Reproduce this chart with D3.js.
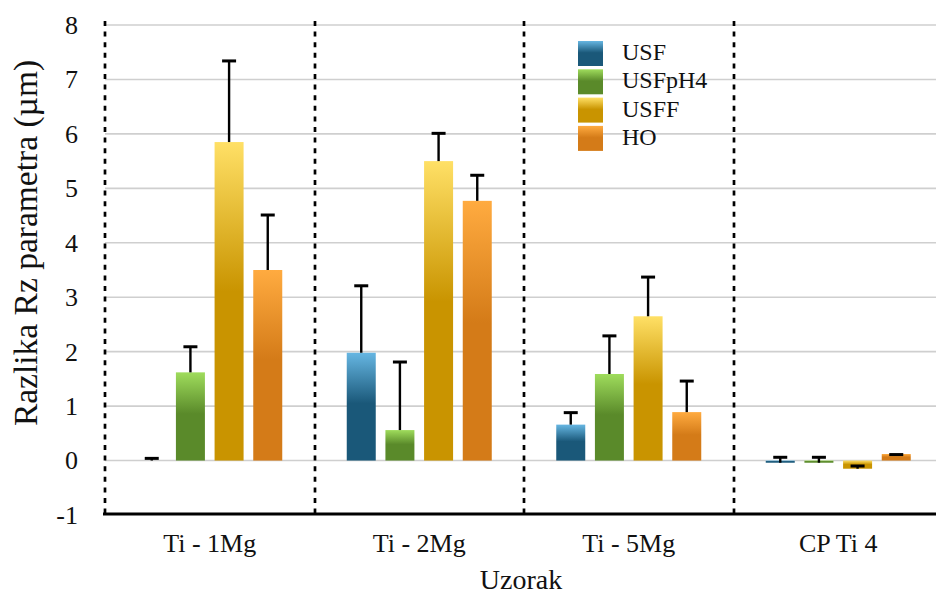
<!DOCTYPE html>
<html><head><meta charset="utf-8">
<script src="https://cdn.jsdelivr.net/npm/d3@7"></script>
<style>
html,body{margin:0;padding:0;background:#fff;}
svg text{font-family:"Liberation Serif","Times New Roman",Tinos,"DejaVu Serif",serif;}
</style></head>
<body><svg id="c" width="936" height="596"></svg>
<script>
const categories = ["Ti - 1Mg", "Ti - 2Mg", "Ti - 5Mg", "CP Ti 4"];
const series = ["USF", "USFpH4", "USFF", "HO"];
// bar values per series (one per category)
const USF    = [0.00, 1.98, 0.66, -0.04];
const USFpH4 = [1.62, 0.56, 1.59, -0.04];
const USFF   = [5.85, 5.50, 2.65, -0.15];
const HO     = [3.50, 4.77, 0.89, 0.12];
// error bar end values
const USF_err    = [0.04, 3.21, 0.88, 0.06];
const USFpH4_err = [2.09, 1.81, 2.29, 0.06];
const USFF_err   = [7.34, 6.01, 3.37, -0.10];
const HO_err     = [4.51, 5.24, 1.46, 0.11];
const yTicks = [-1, 0, 1, 2, 3, 4, 5, 6, 7, 8];

const values = {USF, USFpH4, USFF, HO};
const errs = {USF: USF_err, USFpH4: USFpH4_err, USFF: USFF_err, HO: HO_err};
const colors = {
  USF:    ["#66b6e2", "#1a5879"],
  USFpH4: ["#9fdc5c", "#5a8a2a"],
  USFF:   ["#ffe066", "#c99400"],
  HO:     ["#ffab40", "#d47b18"]
};
const FONT = "'Liberation Serif', 'Times New Roman', Tinos, 'DejaVu Serif', serif";

const svg = d3.select("#c");
const mLeft = 105, mRight = 943, mTop = 25, mBottom = 515;
const y = d3.scaleLinear().domain([-1, 8]).range([mBottom, mTop]);
const x0 = d3.scaleBand().domain(categories).range([mLeft, mRight]);
const x1 = d3.scaleBand().domain(series).range([-72.5, 72.5]).paddingInner(0.25).paddingOuter(0);

const defs = svg.append("defs");
series.forEach(s => {
  const g = defs.append("linearGradient").attr("id", "g_" + s)
    .attr("x1", 0).attr("x2", 0).attr("y1", 0).attr("y2", 1);
  g.append("stop").attr("offset", "0%").attr("stop-color", colors[s][0]);
  g.append("stop").attr("offset", "47%").attr("stop-color", colors[s][1]);
  g.append("stop").attr("offset", "100%").attr("stop-color", colors[s][1]);
});

// gridlines
svg.append("g").selectAll("line").data(yTicks.filter(t => t > -1)).join("line")
  .attr("x1", mLeft).attr("x2", 936)
  .attr("y1", d => y(d)).attr("y2", d => y(d))
  .attr("stroke", "#cfcfcf").attr("stroke-width", 1.6);

// y tick labels
svg.append("g").selectAll("text").data(yTicks).join("text")
  .attr("x", 78).attr("y", d => y(d)).attr("dy", "0.34em")
  .attr("text-anchor", "end").attr("font-size", 26).attr("fill", "#111")
  .attr("font-family", FONT)
  .text(d => d);

// bars
const groups = svg.append("g").selectAll("g").data(categories).join("g")
  .attr("transform", c => `translate(${x0(c) + x0.bandwidth() / 2},0)`);

groups.each(function(c, ci) {
  const g = d3.select(this);
  series.forEach(s => {
    const v = values[s][ci];
    const bx = x1(s), bw = x1.bandwidth();
    if (Math.abs(v) > 0.005) {
      g.append("rect").attr("x", bx).attr("width", bw)
        .attr("y", y(Math.max(v, 0))).attr("height", Math.abs(y(v) - y(0)))
        .attr("fill", `url(#g_${s})`);
    }
    const e = errs[s][ci];
    const cx = bx + bw / 2;
    g.append("line").attr("x1", cx).attr("x2", cx).attr("y1", y(v)).attr("y2", y(e))
      .attr("stroke", "#000").attr("stroke-width", 2.4);
    g.append("line").attr("x1", cx - 7).attr("x2", cx + 7).attr("y1", y(e)).attr("y2", y(e))
      .attr("stroke", "#000").attr("stroke-width", 3);
  });
});

// dashed separators (including left axis)
const seps = categories.map(c => x0(c));
svg.append("g").selectAll("line").data(seps).join("line")
  .attr("x1", d => Math.round(d)).attr("x2", d => Math.round(d))
  .attr("y1", y(8) - 4).attr("y2", mBottom)
  .attr("stroke", "#000").attr("stroke-width", 2.7).attr("stroke-dasharray", "5,5.6");

// bottom axis line
svg.append("line").attr("x1", mLeft - 2).attr("x2", 936).attr("y1", mBottom - 1).attr("y2", mBottom - 1)
  .attr("stroke", "#000").attr("stroke-width", 2.8);

// x tick labels
svg.append("g").selectAll("text").data(categories).join("text")
  .attr("x", c => x0(c) + x0.bandwidth() / 2).attr("y", 552)
  .attr("text-anchor", "middle").attr("font-size", 26).attr("fill", "#111")
  .attr("font-family", FONT)
  .text(c => c);

// axis titles
svg.append("text").attr("x", 521).attr("y", 589).attr("text-anchor", "middle")
  .attr("font-family", FONT)
  .attr("font-size", 28).attr("fill", "#111").text("Uzorak");
svg.append("text").attr("transform", "translate(37,243) rotate(-90)")
  .attr("font-family", FONT)
  .attr("text-anchor", "middle").attr("font-size", 33.5).attr("fill", "#111")
  .text("Razlika Rz parametra (µm)");

// legend
const leg = svg.append("g").attr("transform", "translate(578,41)");
series.forEach((s, i) => {
  const row = leg.append("g").attr("transform", `translate(0,${i * 28.3})`);
  row.append("rect").attr("width", 25).attr("height", 25).attr("fill", `url(#g_${s})`);
  row.append("text").attr("x", 44).attr("y", 19).attr("font-size", 24).attr("fill", "#111")
    .attr("font-family", FONT).text(s);
});
</script></body></html>
